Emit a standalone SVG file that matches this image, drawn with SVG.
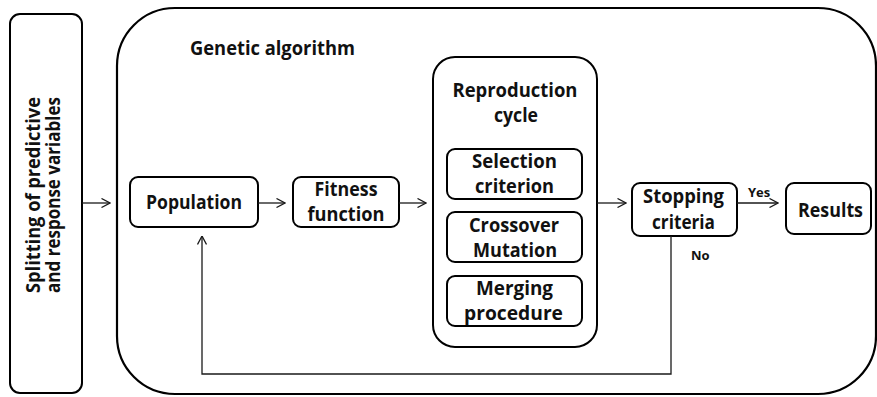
<svg xmlns="http://www.w3.org/2000/svg" width="877" height="397" viewBox="0 0 877 397">
<defs>
<marker id="arr" viewBox="0 0 10 10" refX="9.5" refY="5" markerWidth="10" markerHeight="10" markerUnits="userSpaceOnUse" orient="auto">
<path d="M1,0.5 L9.5,5 L1,9.5" fill="none" stroke="#1a1a1a" stroke-width="1.3"/>
</marker>
<style>
.box{fill:#fff;stroke:#000;stroke-width:2}
.big{fill:none;stroke:#000;stroke-width:2.2}
.t{font-family:"Open Sans","Liberation Sans",sans-serif;font-weight:bold;font-size:19.5px;fill:#111;text-anchor:middle}
.s{font-family:"Open Sans","Liberation Sans",sans-serif;font-weight:bold;font-size:13px;fill:#111}
.c{fill:none;stroke:#1a1a1a;stroke-width:1.3}
</style>
</defs>
<g id="split">
<rect class="box" x="10" y="14" width="72" height="379" rx="10"/>
<text class="t" transform="translate(39.5,195) rotate(-90)" font-size="20.5" textLength="196" lengthAdjust="spacingAndGlyphs">Splitting of predictive</text>
<text class="t" transform="translate(59.5,195) rotate(-90)" font-size="20.5" textLength="196" lengthAdjust="spacingAndGlyphs">and response variables</text>
</g>
<g id="ga">
<rect class="big" x="117" y="8" width="759" height="386" rx="58"/>
<text class="t" x="272.5" y="55" textLength="165" lengthAdjust="spacingAndGlyphs">Genetic algorithm</text>
</g>
<g id="population">
<rect class="box" x="130" y="177" width="128" height="50" rx="8"/>
<text class="t" x="194" y="209" font-size="20" textLength="96" lengthAdjust="spacingAndGlyphs">Population</text>
</g>
<g id="fitness">
<rect class="box" x="293" y="177" width="106" height="50" rx="8"/>
<text class="t" x="346" y="196" textLength="63" lengthAdjust="spacingAndGlyphs">Fitness</text>
<text class="t" x="346" y="221" textLength="77" lengthAdjust="spacingAndGlyphs">function</text>
</g>
<g id="reproduction">
<rect class="box" x="433" y="57" width="164" height="290" rx="22"/>
<text class="t" x="515" y="97" textLength="125" lengthAdjust="spacingAndGlyphs">Reproduction</text>
<text class="t" x="516" y="122" textLength="44" lengthAdjust="spacingAndGlyphs">cycle</text>
</g>
<g id="selection">
<rect class="box" x="447" y="149" width="135" height="50" rx="8"/>
<text class="t" x="514.5" y="168" textLength="85" lengthAdjust="spacingAndGlyphs">Selection</text>
<text class="t" x="514.5" y="193" textLength="79" lengthAdjust="spacingAndGlyphs">criterion</text>
</g>
<g id="crossover">
<rect class="box" x="447" y="212" width="135" height="50" rx="8"/>
<text class="t" x="514" y="232" textLength="90" lengthAdjust="spacingAndGlyphs">Crossover</text>
<text class="t" x="515" y="257" textLength="84" lengthAdjust="spacingAndGlyphs">Mutation</text>
</g>
<g id="merging">
<rect class="box" x="447" y="276" width="135" height="50" rx="8"/>
<text class="t" x="514.5" y="295" textLength="77" lengthAdjust="spacingAndGlyphs">Merging</text>
<text class="t" x="513.5" y="320" textLength="99" lengthAdjust="spacingAndGlyphs">procedure</text>
</g>
<g id="stopping">
<rect class="box" x="632" y="183" width="105" height="53" rx="8"/>
<text class="t" x="683.5" y="203" textLength="81" lengthAdjust="spacingAndGlyphs">Stopping</text>
<text class="t" x="683.5" y="229" textLength="63" lengthAdjust="spacingAndGlyphs">criteria</text>
</g>
<g id="results">
<rect class="box" x="786" y="183" width="85" height="51" rx="8"/>
<text class="t" x="830.5" y="217" font-size="20" textLength="65" lengthAdjust="spacingAndGlyphs">Results</text>
</g>
<g id="connectors">
<line class="c" x1="82" y1="203" x2="110" y2="203" marker-end="url(#arr)"/>
<line class="c" x1="258" y1="203" x2="285" y2="203" marker-end="url(#arr)"/>
<line class="c" x1="399" y1="203" x2="426" y2="203" marker-end="url(#arr)"/>
<line class="c" x1="597" y1="203" x2="626" y2="203" marker-end="url(#arr)"/>
<line class="c" x1="737" y1="203" x2="778" y2="203" marker-end="url(#arr)"/>
<polyline class="c" points="671,236 671,374 202,374 202,236" marker-end="url(#arr)"/>
<text class="s" x="748" y="197">Yes</text>
<text class="s" x="691" y="260">No</text>
</g>
</svg>
